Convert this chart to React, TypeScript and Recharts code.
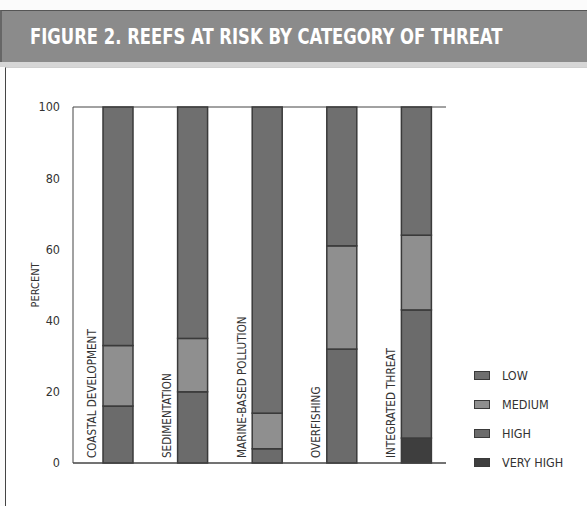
import { BarChart, Bar, XAxis, YAxis, CartesianGrid, Legend } from 'recharts';

const categories = [
  'COASTAL DEVELOPMENT',
  'SEDIMENTATION',
  'MARINE-BASED POLLUTION',
  'OVERFISHING',
  'INTEGRATED THREAT',
];
const veryHigh = [0, 0, 0, 0, 7];
const high = [16, 20, 4, 32, 36];
const medium = [17, 15, 10, 29, 21];
const low = [67, 65, 86, 39, 36];
const yTicks = [0, 20, 40, 60, 80, 100];
const legendOrder = ['LOW', 'MEDIUM', 'HIGH', 'VERY HIGH'];

const data = categories.map((name, i) => ({
  name,
  veryHigh: veryHigh[i],
  high: high[i],
  medium: medium[i],
  low: low[i],
}));

const FONT = '"DejaVu Sans Condensed", "DejaVu Sans", sans-serif';
const BAR_SHIFT = 8;

function SegmentShape(props: any) {
  const { x, y, width, height, fill } = props;
  if (!height || height <= 0) return null;
  return (
    <rect
      x={x + BAR_SHIFT}
      y={y}
      width={width}
      height={height}
      fill={fill}
      stroke="#3a3a3a"
      strokeWidth={1.5}
    />
  );
}

function CategoryTick({ x, y, payload }: any) {
  return (
    <text
      transform={`translate(${x - 14}, ${y - 5}) rotate(-90)`}
      textAnchor="start"
      fontSize={11.6}
      fontFamily={FONT}
      style={{ fontStretch: 'condensed' }}
      fill="#333"
    >
      {payload.value}
    </text>
  );
}

function LegendList({ payload }: any) {
  const items = legendOrder
    .map((n) => (payload || []).find((p: any) => p.value === n))
    .filter(Boolean);
  return (
    <div style={{ fontFamily: FONT, fontStretch: 'condensed', fontSize: 12.5, color: '#333' }}>
      {items.map((entry: any) => (
        <div key={entry.value} style={{ display: 'flex', alignItems: 'center', height: 29 }}>
          <span
            style={{
              display: 'inline-block',
              width: 14,
              height: 7,
              background: entry.color,
              border: '1px solid #3a3a3a',
              marginRight: 12,
            }}
          />
          {entry.value}
        </div>
      ))}
    </div>
  );
}

export default function App() {
  return (
    <div style={{ position: 'relative', width: 587, height: 506, background: '#fbfbfb', overflow: 'hidden' }}>
      <style>{'body{margin:0}'}</style>
      <div
        style={{
          position: 'absolute',
          left: 0,
          top: 10,
          width: 587,
          height: 52,
          background: '#8b8b8b',
          borderTop: '1px solid #555',
          borderLeft: '2px solid #666',
          boxSizing: 'border-box',
        }}
      >
        <div
          style={{
            position: 'absolute',
            left: 28,
            top: 14,
            color: '#fff',
            fontFamily: FONT,
            fontStretch: 'condensed',
            fontWeight: 'bold',
            fontSize: 21,
            whiteSpace: 'nowrap',
            transform: 'scaleX(0.87)',
            transformOrigin: 'left center',
          }}
        >
          FIGURE 2. REEFS AT RISK BY CATEGORY OF THREAT
        </div>
      </div>
      <div style={{ position: 'absolute', left: 0, top: 62, width: 587, height: 5, background: '#d6d6d6' }} />
      <div
        style={{
          position: 'absolute',
          left: 5,
          top: 67,
          width: 582,
          height: 439,
          background: '#fff',
          borderLeft: '1px solid #444',
          borderTop: '1px solid #cfcfcf',
        }}
      />
      <div style={{ position: 'absolute', left: 0, top: 0 }}>
        <BarChart
          width={587}
          height={506}
          data={data}
          margin={{ top: 107, right: 141, bottom: 42, left: 33 }}
          barSize={30}
        >
          <CartesianGrid vertical={false} stroke="#444" strokeWidth={1} />
          <XAxis
            dataKey="name"
            height={1}
            tickSize={0}
            tickMargin={0}
            axisLine={{ stroke: '#444' }}
            tickLine={false}
            interval={0}
            tick={(p: any) => <CategoryTick {...p} />}
          />
          <YAxis
            yAxisId="left"
            domain={[0, 100]}
            ticks={yTicks}
            width={40}
            tickSize={0}
            tickMargin={13}
            axisLine={{ stroke: '#444' }}
            tickLine={false}
            tick={{ fontSize: 12.5, fontFamily: FONT, fill: '#333', style: { fontStretch: 'condensed' } }}
            label={({ viewBox }: any) => (
              <text
                transform={`translate(${viewBox.x + 6}, ${viewBox.y + viewBox.height / 2}) rotate(-90)`}
                textAnchor="middle"
                fontSize={11}
                fontFamily={FONT}
                style={{ fontStretch: 'condensed' }}
                fill="#333"
              >
                PERCENT
              </text>
            )}
          />
          <YAxis
            yAxisId="right"
            orientation="right"
            domain={[0, 100]}
            width={0}
            tick={false}
            tickLine={false}
            axisLine={{ stroke: '#444' }}
          />
          <Legend
            layout="horizontal"
            align="center"
            verticalAlign="middle"
            wrapperStyle={{ left: 474, top: 361, width: 110 }}
            content={(p: any) => <LegendList {...p} />}
          />
          <Bar yAxisId="left" dataKey="veryHigh" name="VERY HIGH" stackId="a" fill="#3e3e3e" shape={<SegmentShape />} isAnimationActive={false} />
          <Bar yAxisId="left" dataKey="high" name="HIGH" stackId="a" fill="#6b6b6b" shape={<SegmentShape />} isAnimationActive={false} />
          <Bar yAxisId="left" dataKey="medium" name="MEDIUM" stackId="a" fill="#8f8f8f" shape={<SegmentShape />} isAnimationActive={false} />
          <Bar yAxisId="left" dataKey="low" name="LOW" stackId="a" fill="#6f6f6f" shape={<SegmentShape />} isAnimationActive={false} />
        </BarChart>
      </div>
    </div>
  );
}
